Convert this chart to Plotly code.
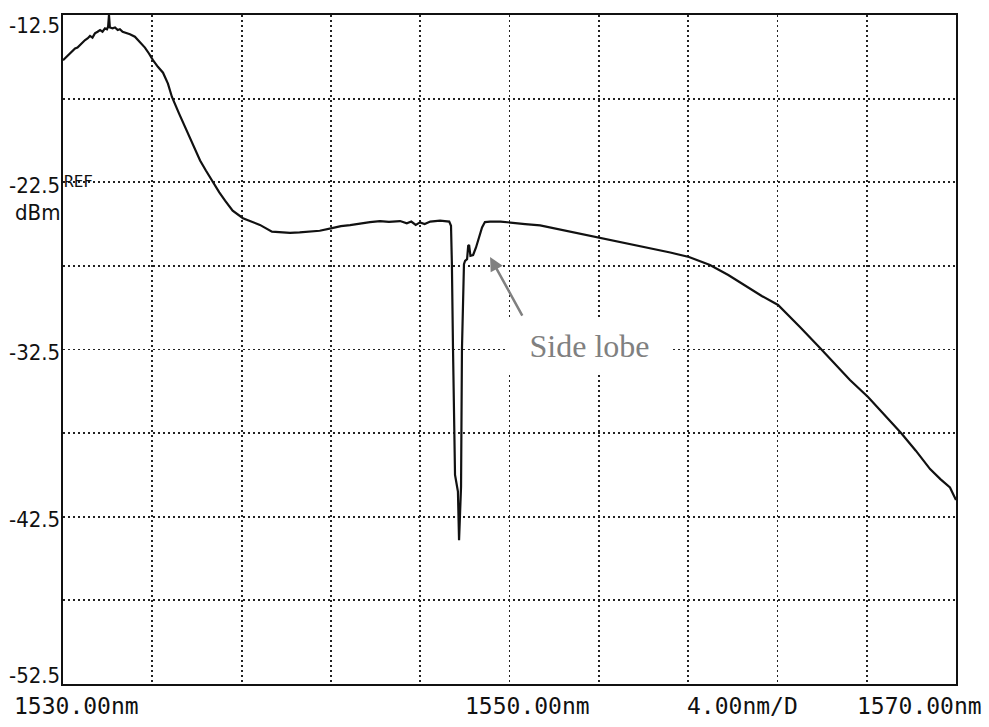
import plotly.graph_objects as go

# ---- data ----
wavelength_nm = [
    1530.00, 1530.15, 1530.31, 1530.45, 1530.54, 1530.65, 1530.76, 1530.88, 1530.99, 1531.10,
    1531.21, 1531.32, 1531.43, 1531.55, 1531.66, 1531.77, 1531.88, 1531.97, 1532.02, 1532.06,
    1532.10, 1532.22, 1532.33, 1532.45, 1532.55, 1532.67, 1532.78, 1533.00, 1533.22, 1533.45,
    1533.67, 1533.85, 1534.03, 1534.25, 1534.48, 1534.70, 1534.88, 1535.20, 1535.46, 1535.80,
    1536.14, 1536.40, 1536.67, 1537.00, 1537.26, 1537.60, 1538.06, 1538.40, 1538.82, 1539.36,
    1539.80, 1540.17, 1540.60, 1541.06, 1541.50, 1542.05, 1542.45, 1542.86, 1543.30, 1543.75,
    1544.20, 1544.60, 1545.10, 1545.40, 1545.60, 1545.80, 1545.99, 1546.20, 1546.45, 1546.70,
    1546.89, 1547.10, 1547.30, 1547.38, 1547.42, 1547.47, 1547.56, 1547.60, 1547.69, 1547.74,
    1547.80, 1547.83, 1547.87, 1547.96, 1548.01, 1548.10, 1548.15, 1548.19, 1548.25, 1548.37,
    1548.50, 1548.68, 1548.77, 1548.90, 1549.13, 1549.60, 1550.02, 1550.70, 1551.37, 1552.70,
    1554.05, 1555.20, 1556.29, 1557.20, 1558.04, 1558.98, 1559.80, 1560.64, 1561.30, 1562.03,
    1562.50, 1563.01, 1563.91, 1564.60, 1565.25, 1566.06, 1566.80, 1567.54, 1568.20, 1568.84,
    1569.30, 1569.73, 1570.00,
]
power_dbm = [
    -15.20, -15.00, -14.75, -14.60, -14.50, -14.45, -14.30, -14.10, -14.00, -13.90,
    -13.75, -13.85, -13.60, -13.50, -13.40, -13.50, -13.30, -13.35, -13.20, -12.50,
    -13.25, -13.30, -13.25, -13.40, -13.35, -13.50, -13.55, -13.65, -13.80, -14.10,
    -14.45, -14.80, -15.20, -15.60, -15.95, -16.60, -17.40, -18.40, -19.20, -20.20,
    -21.20, -21.80, -22.40, -23.10, -23.60, -24.20, -24.65, -24.85, -25.05, -25.45,
    -25.50, -25.53, -25.50, -25.47, -25.40, -25.24, -25.12, -25.06, -24.95, -24.88,
    -24.82, -24.87, -24.82, -24.95, -24.85, -25.05, -24.90, -25.00, -24.85, -24.80,
    -24.80, -24.82, -24.85, -25.10, -27.40, -32.50, -40.00, -40.30, -41.00, -43.90,
    -41.50, -40.70, -32.50, -27.40, -27.20, -27.10, -26.30, -26.25, -26.90, -26.85,
    -26.40, -25.53, -25.20, -24.88, -24.85, -24.85, -24.92, -25.00, -25.08, -25.45,
    -25.83, -26.15, -26.43, -26.70, -26.97, -27.45, -28.05, -28.76, -29.30, -29.84,
    -30.45, -31.15, -32.41, -33.40, -34.32, -35.34, -36.40, -37.49, -38.55, -39.65,
    -40.25, -40.75, -41.50,
]

x_range = [1530.0, 1570.0]
y_range = [-52.5, -12.5]
x_div = 4.0
y_div = 5.0

y_tick_values = [-12.5, -22.5, -32.5, -42.5, -52.5]
y_tick_labels = ["-12.5", "-22.5", "-32.5", "-42.5", "-52.5"]
x_labels = ["1530.00nm", "1550.00nm", "4.00nm/D", "1570.00nm"]
ref_label = "REF"
unit_label = "dBm"
annotation_text = "Side lobe"
side_lobe_point = (1549.13, -26.97)

# ---- figure ----
W, H = 989, 727
L, R, T, B = 63, 956, 15, 684


def xp(px):
    return (px - L) / (R - L)


def yp(py):
    return (B - py) / (B - T)


fig = go.Figure()
fig.add_trace(go.Scatter(
    x=wavelength_nm, y=power_dbm, mode="lines",
    line=dict(color="#111111", width=2.2),
    hoverinfo="skip", showlegend=False,
))

axis_common = dict(
    showgrid=True, gridcolor="#222222", gridwidth=1.8, griddash="2px,3px",
    showline=True, linecolor="#111111", linewidth=2, mirror=True,
    zeroline=False, showticklabels=False, ticks="",
)
fig.update_xaxes(range=x_range, tick0=x_range[0], dtick=x_div, **axis_common)
fig.update_yaxes(range=y_range, tick0=y_range[0], dtick=y_div, **axis_common)

annotations = []
tick_font = dict(family="Liberation Sans Narrow, DejaVu Sans Condensed, Liberation Sans, sans-serif",
                 size=22, color="#111111")
y_label_centers = [25, 185, 352, 519, 675]
for lab, cy in zip(y_tick_labels, y_label_centers):
    annotations.append(dict(text=lab, xref="paper", yref="paper", x=xp(62), y=yp(cy),
                            xanchor="right", yanchor="middle", showarrow=False, font=tick_font))
annotations.append(dict(text=ref_label, xref="paper", yref="paper", x=xp(62), y=yp(181),
                        xanchor="left", yanchor="middle", showarrow=False,
                        font=dict(family="DejaVu Sans Mono, monospace", size=16, color="#111111")))
annotations.append(dict(text=unit_label, xref="paper", yref="paper", x=xp(62), y=yp(212),
                        xanchor="right", yanchor="middle", showarrow=False, font=tick_font))

mono_font = dict(family="DejaVu Sans Mono, Liberation Mono, monospace", size=23, color="#111111")
x_label_pos = [(12, "left"), (463, "left"), (685, "left"), (984, "right")]
for lab, (px, anc) in zip(x_labels, x_label_pos):
    annotations.append(dict(text=lab, xref="paper", yref="paper", x=xp(px), y=yp(706),
                            xanchor=anc, yanchor="middle", showarrow=False, font=mono_font))

# arrow pointing to the side lobe
annotations.append(dict(
    text="", x=side_lobe_point[0], y=side_lobe_point[1], xref="x", yref="y",
    ax=1550.61, ay=-30.56, axref="x", ayref="y",
    showarrow=True, arrowhead=2, arrowsize=1.1, arrowwidth=2.5, arrowcolor="#808080",
))
annotations.append(dict(
    text=annotation_text, xref="paper", yref="paper", x=xp(589), y=yp(346),
    xanchor="center", yanchor="middle", showarrow=False,
    font=dict(family="Liberation Serif, Times New Roman, serif", size=32, color="#808080"),
    bgcolor="white", borderpad=0, width=163, height=53, align="center",
))

fig.update_layout(
    width=W, height=H,
    margin=dict(l=L, r=W - R, t=T, b=H - B, pad=0),
    paper_bgcolor="white", plot_bgcolor="white",
    annotations=annotations,
    showlegend=False,
)

fig.write_html(
    "out.html",
    config={"displayModeBar": False, "staticPlot": True},
    post_script="document.body.style.margin='0';document.body.style.overflow='hidden';",
)
